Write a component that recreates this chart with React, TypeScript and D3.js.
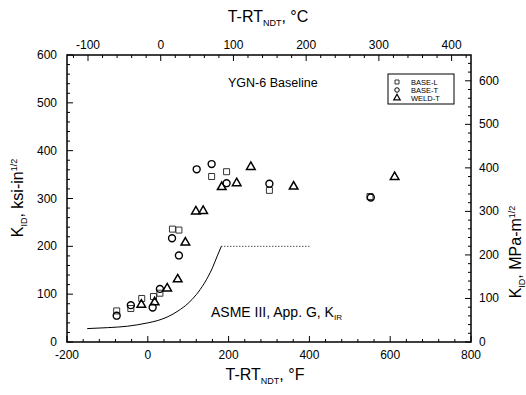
import React from 'react';
import * as d3 from 'd3';

// tick labels
const fTicks = [-200, 0, 200, 400, 600, 800];
const cTicks = [-100, 0, 100, 200, 300, 400];
const ksiTicks = [0, 100, 200, 300, 400, 500, 600];
const mpaTicks = [0, 100, 200, 300, 400, 500, 600];

// data: [T-RTndt (F), KID (ksi-in^1/2)]
const baseL: [number, number][] = [
  [-77, 65], [-42, 70], [-15, 91], [14, 95], [30, 102], [61, 236], [77, 234],
  [158, 346], [195, 356], [301, 317], [550, 304],
];
const baseT: [number, number][] = [
  [-77, 55], [-42, 77], [12, 72], [30, 111], [60, 217], [77, 181], [121, 361],
  [158, 372], [195, 332], [301, 331], [552, 302],
];
const weldT: [number, number][] = [
  [-16, 78], [17, 83], [48, 112], [74, 131], [93, 208], [119, 273], [137, 274],
  [183, 324], [220, 332], [255, 366], [361, 325], [611, 345],
];
// ASME III App. G KIR curve
const kirCurve: [number, number][] = [
  [-150, 28], [-100, 30], [-50, 33], [0, 40], [25, 45], [50, 53], [75, 65],
  [100, 81], [120, 99], [140, 123], [160, 155], [172, 180], [182, 200],
];
const kirShelf: [number, number][] = [[182, 200], [400, 200]];

const legendItems = ['BASE-L', 'BASE-T', 'WELD-T'];

const W = 526;
const H = 395;
const L = 67, R = 471, T = 55, B = 342;
const font = '"Liberation Sans", Arial, sans-serif';

export default function App() {
  const x = d3.scaleLinear().domain([-200, 800]).range([L, R]);
  const xC = d3.scaleLinear().domain([(-200 - 32) / 1.8, (800 - 32) / 1.8]).range([L, R]);
  const y = d3.scaleLinear().domain([0, 600]).range([B, T]);
  const yM = d3.scaleLinear().domain([0, 600 * 1.0988]).range([B, T]);

  const line = d3.line<[number, number]>()
    .x(d => x(d[0]))
    .y(d => y(d[1]))
    .curve(d3.curveMonotoneX);

  const sq = d3.symbol(d3.symbolSquare, 36)()!;
  const ci = d3.symbol(d3.symbolCircle, 38)()!;
  const tri = d3.symbol(d3.symbolTriangle, 32)()!;
  const legendSyms = [
    { d: d3.symbol(d3.symbolSquare, 16)()!, stroke: '#333', sw: 1 },
    { d: d3.symbol(d3.symbolCircle, 16)()!, stroke: '#000', sw: 1 },
    { d: d3.symbol(d3.symbolTriangle, 18)()!, stroke: '#000', sw: 1.2 },
  ];

  const fMinor = d3.range(-200, 801, 40);
  const cMinor = d3.range(-120, 421, 20);
  const ksiMinor = d3.range(0, 601, 20);
  const mpaMinor = d3.range(0, 659, 20);

  return (
    <svg width={W} height={H} style={{ position: 'absolute', left: 0, top: 0, background: '#fff' }}
      fontFamily={font}>
      {/* frame */}
      <rect x={L} y={T} width={R - L} height={B - T} fill="none" stroke="#000" strokeWidth={1.5} />

      {/* bottom axis (F) */}
      {fMinor.map(v => (
        <line key={'fb' + v} x1={x(v)} x2={x(v)} y1={B} y2={B - (fTicks.includes(v) ? 6 : 3)} stroke="#000" />
      ))}
      {fTicks.map(v => (
        <text key={'fl' + v} x={x(v)} y={359} fontSize={12} textAnchor="middle">{v}</text>
      ))}
      <text x={265} y={380} fontSize={16} textAnchor="middle">
        T-RT<tspan fontSize={9} dy={4}>NDT</tspan><tspan dy={-4}>, °F</tspan>
      </text>

      {/* top axis (C) */}
      {cMinor.filter(v => xC(v) >= L && xC(v) <= R).map(v => (
        <line key={'ct' + v} x1={xC(v)} x2={xC(v)} y1={T} y2={T + (cTicks.includes(v) ? 6 : 3)} stroke="#000" />
      ))}
      {cTicks.map(v => (
        <text key={'cl' + v} x={xC(v)} y={49} fontSize={12} textAnchor="middle">{v}</text>
      ))}
      <text x={268} y={22} fontSize={16} textAnchor="middle">
        T-RT<tspan fontSize={9} dy={4}>NDT</tspan><tspan dy={-4}>, °C</tspan>
      </text>

      {/* left axis (ksi) */}
      {ksiMinor.map(v => (
        <line key={'kl' + v} x1={L} x2={L + (ksiTicks.includes(v) ? 6 : 3)} y1={y(v)} y2={y(v)} stroke="#000" />
      ))}
      {ksiTicks.map(v => (
        <text key={'kt' + v} x={57} y={y(v) + 4} fontSize={12} textAnchor="end">{v}</text>
      ))}
      <text transform={`translate(23,198) rotate(-90)`} fontSize={16} textAnchor="middle">
        K<tspan fontSize={9} dy={4}>ID</tspan><tspan dy={-4}>, ksi-in</tspan><tspan fontSize={9} dy={-6}>1/2</tspan>
      </text>

      {/* right axis (MPa) */}
      {mpaMinor.map(v => (
        <line key={'ml' + v} x1={R} x2={R - (mpaTicks.includes(v) ? 6 : 3)} y1={yM(v)} y2={yM(v)} stroke="#000" />
      ))}
      {mpaTicks.map(v => (
        <text key={'mt' + v} x={479} y={yM(v) + 4} fontSize={12} textAnchor="start">{v}</text>
      ))}
      <text transform={`translate(521,252) rotate(-90)`} fontSize={16} textAnchor="middle">
        K<tspan fontSize={9} dy={4}>ID</tspan><tspan dy={-4}>, MPa-m</tspan><tspan fontSize={9} dy={-6}>1/2</tspan>
      </text>

      {/* KIR curve */}
      <path d={line(kirCurve)!} fill="none" stroke="#000" strokeWidth={1} />
      <path d={line(kirShelf)!} fill="none" stroke="#000" strokeWidth={1} strokeDasharray="1,2" />

      {/* data */}
      {baseL.map((d, i) => (
        <path key={'bl' + i} d={sq} transform={`translate(${x(d[0])},${y(d[1])})`} fill="none" stroke="#333" strokeWidth={1} />
      ))}
      {baseT.map((d, i) => (
        <path key={'bt' + i} d={ci} transform={`translate(${x(d[0])},${y(d[1])})`} fill="none" stroke="#000" strokeWidth={1.4} />
      ))}
      {weldT.map((d, i) => (
        <path key={'wt' + i} d={tri} transform={`translate(${x(d[0])},${y(d[1])})`} fill="none" stroke="#000" strokeWidth={1.5} />
      ))}

      {/* annotations */}
      <text x={228} y={87} fontSize={12.5}>YGN-6 Baseline</text>
      <text x={211} y={317} fontSize={14}>
        ASME III, App. G, K<tspan fontSize={8} dy={3}>IR</tspan>
      </text>

      {/* legend */}
      <rect x={388} y={74} width={66} height={30} fill="#fff" stroke="#000" strokeWidth={1} />
      {legendItems.map((name, i) => (
        <g key={name} transform={`translate(0,${82 + i * 8})`}>
          <path d={legendSyms[i].d} transform="translate(397,0)" fill="none"
            stroke={legendSyms[i].stroke} strokeWidth={legendSyms[i].sw} />
          <text x={411} y={2.7} fontSize={7.5}>{name}</text>
        </g>
      ))}
    </svg>
  );
}
